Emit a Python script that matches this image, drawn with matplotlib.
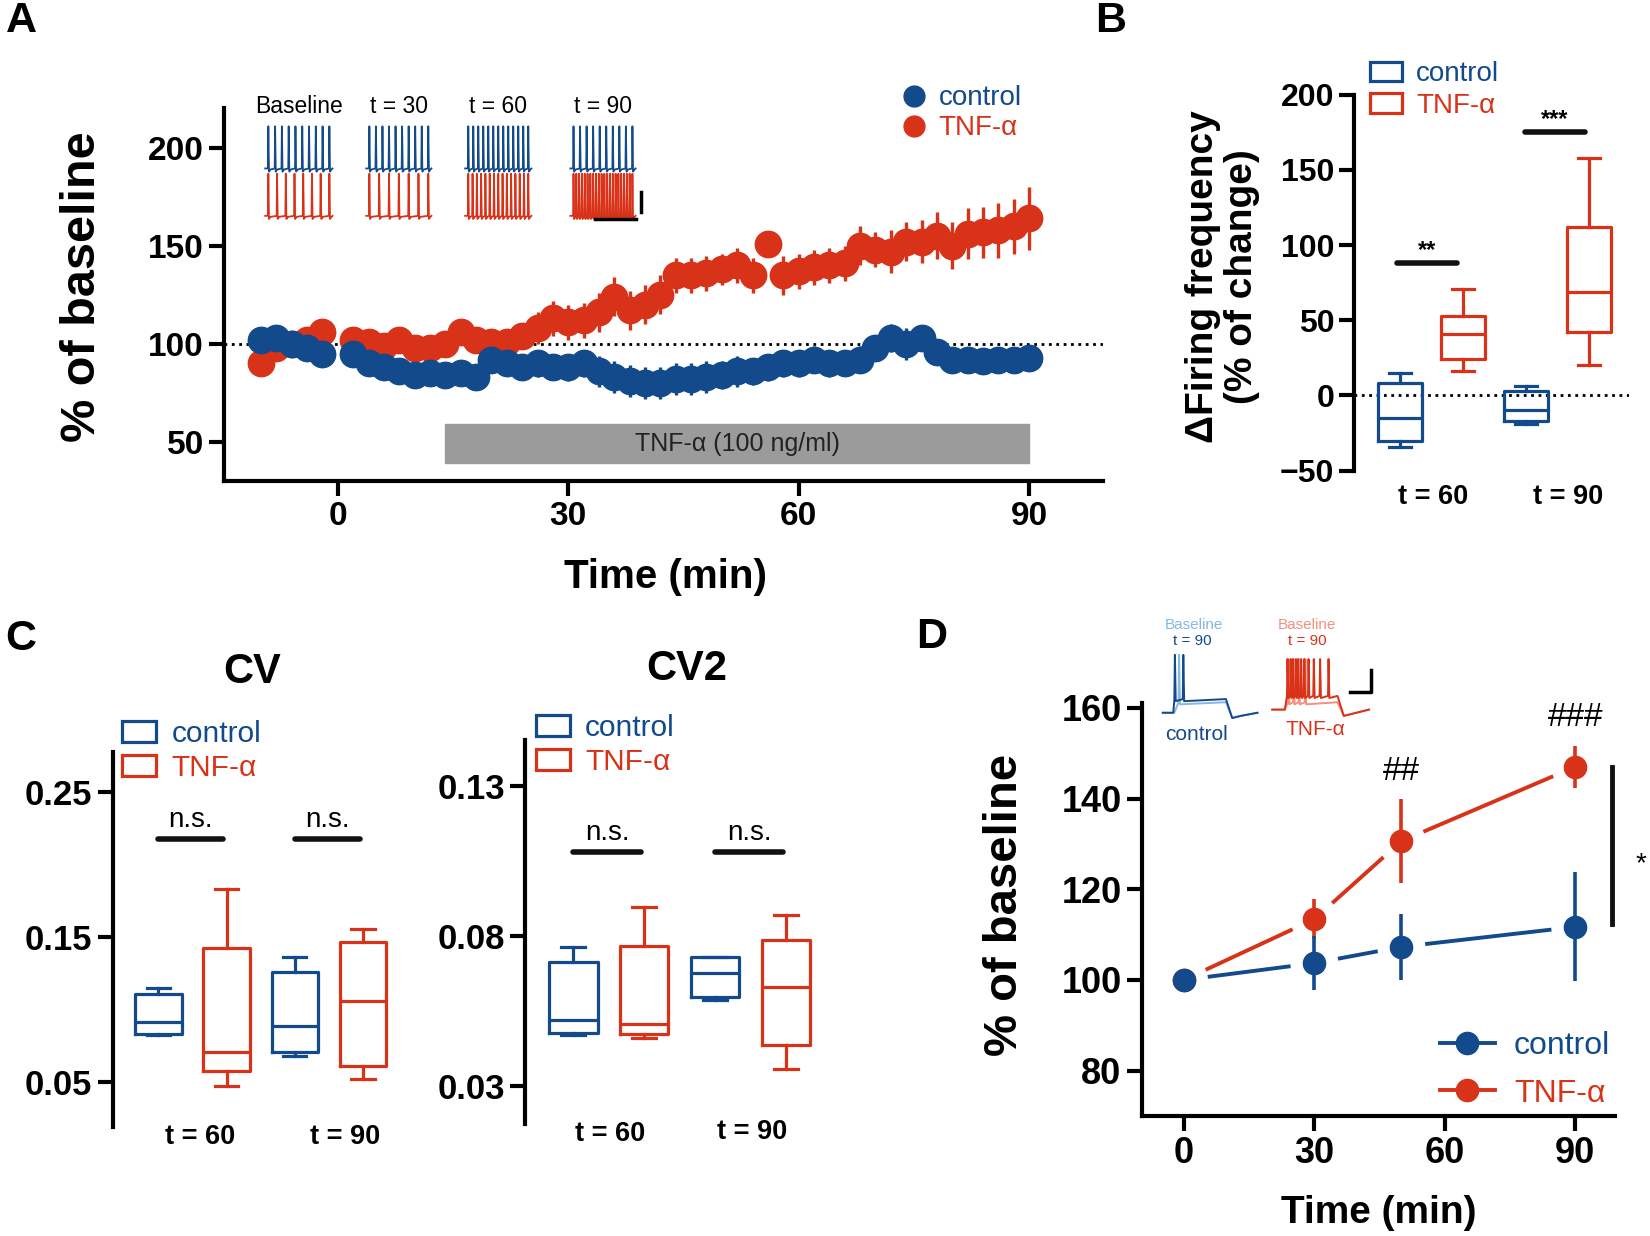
import numpy as np
import matplotlib
matplotlib.use("Agg")
import matplotlib.pyplot as plt
from matplotlib.patches import Patch, Rectangle
from matplotlib.lines import Line2D

plt.rcParams['font.family'] = ['Liberation Sans', 'DejaVu Sans']
plt.rcParams['axes.linewidth'] = 3

BLUE = '#124a8c'
RED = '#d83219'
LBLUE = '#86b9dd'
LRED = '#f3907f'

# ---------------- data ----------------
# Panel A: firing frequency over time (% of baseline)
time_a = [-10, -8, -6, -4, -2] + list(range(2, 92, 2))
ctrl_a = [102, 103, 100, 98, 95,
          95, 90, 88, 86, 84, 85, 84, 85, 83,
          92, 90, 88, 90, 88, 88, 90, 86, 83, 81, 80,
          80, 82, 82, 83, 84, 86, 86, 88, 90, 90,
          92, 90, 90, 92, 98, 103, 100, 103, 96, 92, 92, 91, 92, 92, 93]
ctrl_a_err = [2, 2, 2, 2, 2,
              3, 3, 4, 4, 4, 4, 5, 5, 5,
              6, 6, 6, 7, 6, 7, 7, 8, 8, 8, 8,
              8, 8, 8, 8, 7, 8, 7, 7, 7, 7,
              7, 7, 6, 7, 6, 7, 8, 6, 5, 5, 4, 4, 4, 4, 4]
tnf_a = [90, 98, 100, 102, 106,
         102, 101, 99, 102, 98, 98, 100, 106, 102,
         101, 101, 104, 108, 113, 111, 112, 116, 124, 117, 120,
         125, 135, 135, 136, 138, 140, 135, 151, 135, 137,
         139, 140, 141, 150, 148, 147, 152, 152, 155, 150, 156, 157, 158, 160, 164]
tnf_a_err = [3, 3, 3, 3, 3,
             4, 4, 4, 4, 5, 5, 5, 5, 5,
             5, 6, 6, 8, 9, 9, 9, 10, 10, 10, 10,
             10, 9, 9, 9, 8, 9, 9, 3, 10, 9,
             9, 9, 9, 10, 9, 11, 10, 11, 12, 12, 13, 13, 14, 14, 16]

inset_labels = ['Baseline', 't = 30', 't = 60', 't = 90']
ctrl_spikes = [10, 10, 13, 10]
tnf_spikes = [8, 7, 15, 22]

# Panel B: change in firing frequency, box stats [min, q1, median, q3, max]
b_ctrl_60 = [-34, -30, -15, 8, 15]
b_tnf_60 = [16, 24, 41, 53, 71]
b_ctrl_90 = [-19, -17, -10, 3, 6]
b_tnf_90 = [20, 42, 69, 112, 158]

# Panel C: CV and CV2
cv_ctrl_60 = [0.0825, 0.0832, 0.0917, 0.1106, 0.1147]
cv_tnf_60 = [0.0475, 0.0578, 0.071, 0.1424, 0.1832]
cv_ctrl_90 = [0.068, 0.071, 0.089, 0.126, 0.136]
cv_tnf_90 = [0.0518, 0.061, 0.106, 0.1465, 0.1555]
cv2_ctrl_60 = [0.047, 0.0476, 0.0522, 0.0714, 0.0764]
cv2_tnf_60 = [0.0461, 0.0473, 0.0507, 0.0768, 0.0898]
cv2_ctrl_90 = [0.0589, 0.0598, 0.0678, 0.0731, 0.0731]
cv2_tnf_90 = [0.0359, 0.0437, 0.0631, 0.0787, 0.087]

# Panel D: evoked firing (% of baseline)
time_d = [0, 30, 50, 90]
ctrl_d = [100, 103.7, 107.3, 111.7]
ctrl_d_err = [0, 6, 7.3, 12]
tnf_d = [100, 113.4, 130.6, 147]
tnf_d_err = [0, 4.4, 9.2, 4.6]

# ---------------- layout helpers ----------------
W, H = 1568.0, 1174.0


def P(x, y):
    return (x / W, 1 - y / H)


def rect(x0, y0, x1, y1):
    return [x0 / W, 1 - y1 / H, (x1 - x0) / W, (y1 - y0) / H]


fig = plt.figure(figsize=(16.5, 12.36), dpi=100)


def style_ax(ax, bottom=True, size=24):
    for s in ['top', 'right']:
        ax.spines[s].set_visible(False)
    ax.tick_params(width=3, length=11, labelsize=size, direction='out')
    if not bottom:
        ax.spines['bottom'].set_visible(False)
        ax.tick_params(axis='x', length=0, width=0, labelbottom=False)
    for lab in ax.get_xticklabels() + ax.get_yticklabels():
        lab.set_fontweight('bold')


# ---------------- Panel A ----------------
axA = fig.add_axes(rect(213, 103, 1048, 457))
axA.axhline(100, color='k', ls=':', lw=2, zorder=1)
axA.add_patch(Rectangle((14, 39), 76, 20, color='#9b9b9b', zorder=1))
axA.text(52, 49, 'TNF-α (100 ng/ml)', ha='center', va='center', fontsize=18, color='#222222')
axA.errorbar(time_a, tnf_a, yerr=tnf_a_err, fmt='o', color=RED, ms=19, elinewidth=2.4,
             capsize=0, zorder=3)
axA.errorbar(time_a, ctrl_a, yerr=ctrl_a_err, fmt='o', color=BLUE, ms=19, elinewidth=2.4,
             capsize=0, zorder=4)
axA.set_xlim(-14.8, 99.6)
axA.set_ylim(30, 220)
axA.set_xticks([0, 30, 60, 90])
axA.set_yticks([50, 100, 150, 200])
style_ax(axA, size=24)
legA = axA.legend(handles=[Line2D([], [], marker='o', ls='none', color=BLUE, ms=15),
                           Line2D([], [], marker='o', ls='none', color=RED, ms=15)],
                  labels=['control', 'TNF-α'], loc='upper left', frameon=False,
                  bbox_to_anchor=P(855, 81), bbox_transform=fig.transFigure,
                  fontsize=20, handlelength=1.0, handletextpad=0.4, labelspacing=0.15,
                  borderaxespad=0, borderpad=0)
for txt, c in zip(legA.get_texts(), [BLUE, RED]):
    txt.set_color(c)
fig.text(*P(632, 548), 'Time (min)', ha='center', va='center', fontsize=29, fontweight='bold')
fig.text(*P(78, 272), '% of baseline', ha='center', va='center', rotation=90,
         fontsize=35, fontweight='bold')


# ---------------- box plot helper ----------------
def boxes(ax, groups, colors, width=0.68):
    for i, (g, c) in enumerate(zip(groups, colors)):
        st = [dict(whislo=g[0], q1=g[1], med=g[2], q3=g[3], whishi=g[4], fliers=[])]
        pr = dict(color=c, lw=2.3)
        ax.bxp(st, positions=[i + 1], widths=width, showfliers=False, manage_ticks=False,
               boxprops=pr, medianprops=pr, whiskerprops=pr, capprops=pr)


def box_legend(ax, anchor, size):
    lg = ax.legend(handles=[Patch(facecolor='none', edgecolor=BLUE, lw=2.3),
                            Patch(facecolor='none', edgecolor=RED, lw=2.3)],
                   labels=['control', 'TNF-α'], loc='upper left', frameon=False,
                   bbox_to_anchor=anchor, bbox_transform=fig.transFigure,
                   fontsize=size, handlelength=1.15, handleheight=0.7,
                   handletextpad=0.5, labelspacing=0.2, borderaxespad=0, borderpad=0)
    for txt, c in zip(lg.get_texts(), [BLUE, RED]):
        txt.set_color(c)


def sig(ax, x0, x1, y, label, dy, size, weight='normal'):
    ax.plot([x0, x1], [y, y], color='#111111', lw=4, solid_capstyle='round')
    ax.text((x0 + x1) / 2, y + dy, label, ha='center', va='bottom', fontsize=size,
            fontweight=weight)


colors4 = [BLUE, RED, BLUE, RED]

# ---------------- Panel B ----------------
axB = fig.add_axes(rect(1287, 90, 1548, 447))
axB.axhline(0, color='k', ls=':', lw=2, zorder=0)
boxes(axB, [b_ctrl_60, b_tnf_60, b_ctrl_90, b_tnf_90], colors4, width=0.7)
axB.set_xlim(0.27, 4.63)
axB.set_ylim(-50, 200)
axB.set_yticks([-50, 0, 50, 100, 150, 200])
style_ax(axB, bottom=False, size=23)
sig(axB, 0.95, 1.9, 88, '**', 1, 17, 'bold')
sig(axB, 2.98, 3.93, 175, '***', 1, 17, 'bold')
box_legend(axB, P(1302, 58), 20)
fig.text(*P(1362, 472), 't = 60', ha='center', va='center', fontsize=19.5, fontweight='bold')
fig.text(*P(1490, 472), 't = 90', ha='center', va='center', fontsize=19.5, fontweight='bold')
fig.text(*P(1162, 263), 'ΔFiring frequency\n(% of change)', ha='center', va='center',
         rotation=90, fontsize=28, fontweight='bold', linespacing=1.1)

# ---------------- Panel C ----------------
axC1 = fig.add_axes(rect(107, 714, 380, 1070))
boxes(axC1, [cv_ctrl_60, cv_tnf_60, cv_ctrl_90, cv_tnf_90], colors4)
axC1.set_xlim(0.327, 4.54)
axC1.set_ylim(0.0193, 0.278)
axC1.set_yticks([0.05, 0.15, 0.25])
axC1.set_yticklabels(['0.05', '0.15', '0.25'])
style_ax(axC1, bottom=False, size=25)
sig(axC1, 1.0, 1.95, 0.218, 'n.s.', 0.004, 20)
sig(axC1, 3.0, 3.95, 0.218, 'n.s.', 0.004, 20)
box_legend(axC1, P(116, 684), 21.5)
fig.text(*P(240, 638), 'CV', ha='center', va='center', fontsize=30, fontweight='bold')
fig.text(*P(190, 1080), 't = 60', ha='center', va='center', fontsize=19.5, fontweight='bold')
fig.text(*P(328, 1080), 't = 90', ha='center', va='center', fontsize=19.5, fontweight='bold')

axC2 = fig.add_axes(rect(499, 703, 781, 1068))
boxes(axC2, [cv2_ctrl_60, cv2_tnf_60, cv2_ctrl_90, cv2_tnf_90], colors4)
axC2.set_xlim(0.32, 4.5)
axC2.set_ylim(0.0173, 0.1453)
axC2.set_yticks([0.03, 0.08, 0.13])
axC2.set_yticklabels(['0.03', '0.08', '0.13'])
style_ax(axC2, bottom=False, size=25)
sig(axC2, 1.0, 1.95, 0.108, 'n.s.', 0.002, 20)
sig(axC2, 3.0, 3.95, 0.108, 'n.s.', 0.002, 20)
box_legend(axC2, P(509, 678), 21.5)
fig.text(*P(653, 635), 'CV2', ha='center', va='center', fontsize=30, fontweight='bold')
fig.text(*P(580, 1077), 't = 60', ha='center', va='center', fontsize=19.5, fontweight='bold')
fig.text(*P(715, 1075), 't = 90', ha='center', va='center', fontsize=19.5, fontweight='bold')

# ---------------- Panel D ----------------
axD = fig.add_axes(rect(1085, 668, 1535, 1060))
axD.set_xlim(-9.7, 99.2)
axD.set_ylim(70, 161)
axD.set_xticks([0, 30, 60, 90])
axD.set_yticks([80, 100, 120, 140, 160])
style_ax(axD, size=26)


def gapped(ax, xs, ys, color, gap=24):
    for i in range(len(xs) - 1):
        p0 = ax.transData.transform((xs[i], ys[i]))
        p1 = ax.transData.transform((xs[i + 1], ys[i + 1]))
        u = (p1 - p0) / np.hypot(*(p1 - p0))
        a, b = ax.transData.inverted().transform([p0 + u * gap, p1 - u * gap])
        ax.plot([a[0], b[0]], [a[1], b[1]], color=color, lw=2.8, solid_capstyle='butt')


gapped(axD, time_d, tnf_d, RED)
gapped(axD, time_d, ctrl_d, BLUE)
axD.errorbar(time_d, tnf_d, yerr=tnf_d_err, fmt='o', color=RED, ms=16, elinewidth=2.6,
             capsize=0, zorder=3)
axD.errorbar(time_d, ctrl_d, yerr=ctrl_d_err, fmt='o', color=BLUE, ms=16, elinewidth=2.6,
             capsize=0, zorder=4)
axD.text(50, 142.5, '##', ha='center', va='bottom', fontsize=24)
axD.text(90, 154.5, '###', ha='center', va='bottom', fontsize=24)
axD.plot([98.4, 98.4], [112.3, 147], color='#111111', lw=3.5, clip_on=False)
axD.text(105, 125.6, '*', ha='center', va='center', fontsize=20, clip_on=False)
legD = axD.legend(handles=[Line2D([], [], marker='o', color=BLUE, ms=16, lw=2.8),
                           Line2D([], [], marker='o', color=RED, ms=16, lw=2.8)],
                  labels=['control', 'TNF-α'], loc='lower right', frameon=False,
                  fontsize=23, handlelength=1.7, handletextpad=0.6, labelspacing=0.55,
                  bbox_to_anchor=P(1530, 1053), bbox_transform=fig.transFigure,
                  borderaxespad=0, borderpad=0)
for txt, c in zip(legD.get_texts(), [BLUE, RED]):
    txt.set_color(c)
fig.text(*P(1310, 1152), 'Time (min)', ha='center', va='center', fontsize=28, fontweight='bold')
fig.text(*P(955, 860), '% of baseline', ha='center', va='center', rotation=90,
         fontsize=34, fontweight='bold')

# ---------------- overlay: traces, panel letters ----------------
ov = fig.add_axes([0, 0, 1, 1])
ov.set_xlim(0, W)
ov.set_ylim(H, 0)
ov.axis('off')
ov.patch.set_alpha(0)


def spike_train(x0, x1, yb, yp, n):
    px, py = [x0], [yb]
    for s in np.linspace(x0 + 3, x1 - 3, n):
        px += [s - 0.4, s, s + 0.6, s + 2.0]
        py += [yb, yp, yb + 3, yb + 1]
    px.append(x1)
    py.append(yb)
    return px, py


inset_x = [(252, 316), (348, 410), (442, 505), (542, 604)]
for lab, (x0, x1), nb, nr in zip(inset_labels, inset_x, ctrl_spikes, tnf_spikes):
    ov.text((x0 + x1) / 2, 101, lab, ha='center', va='center', fontsize=16.5)
    ov.plot(*spike_train(x0, x1, 160, 120, nb), color=BLUE, lw=1.3)
    ov.plot(*spike_train(x0, x1, 205, 165, nr), color=RED, lw=1.3)
ov.plot([609, 609], [182, 201], color='k', lw=2.5)
ov.plot([565, 604], [208, 208], color='k', lw=2.5)


def step_trace(x0, x_on, x_off, x_end, y_rest, y_step, y_under, y_peak, spikes):
    px, py = [x0, x_on], [y_rest, y_rest]
    for s in spikes:
        px += [s, s + 0.5, s + 1.3]
        py += [y_step, y_peak, y_step + 2]
    px += [x_off, x_off + 6, x_off + 14, x_end]
    py += [y_step, y_under, y_under - 2, y_rest]
    return px, py


ov.plot(*step_trace(1105, 1116, 1165, 1195, 677, 667, 682, 622, [1120]), color=LBLUE, lw=1.4)
ov.plot(*step_trace(1105, 1115, 1165, 1195, 677, 664, 682, 622, [1116, 1124]), color=BLUE, lw=1.4)
ov.plot(*step_trace(1209, 1221, 1271, 1301, 674, 667, 680, 626, [1224, 1229, 1234, 1240]),
        color=LRED, lw=1.4)
ov.plot(*step_trace(1209, 1221, 1271, 1301, 674, 661, 680, 626,
                    [1223, 1226, 1228, 1231, 1233, 1236, 1239, 1243, 1248, 1254, 1262]),
        color=RED, lw=1.4)
ov.plot([1283, 1303, 1303], [657, 657, 636], color='k', lw=2.5)
ov.text(1135, 594, 'Baseline', color=LBLUE, ha='center', va='center', fontsize=11)
ov.text(1133, 609, 't = 90', color=BLUE, ha='center', va='center', fontsize=11)
ov.text(1137, 698, 'control', color=BLUE, ha='center', va='center', fontsize=15)
ov.text(1242, 594, 'Baseline', color=LRED, ha='center', va='center', fontsize=11)
ov.text(1242, 609, 't = 90', color=RED, ha='center', va='center', fontsize=11)
ov.text(1250, 693, 'TNF-α', color=RED, ha='center', va='center', fontsize=15)

for lab, (x, y) in zip('ABCD', [(20, 20), (1055, 20), (20, 607), (885, 605)]):
    ov.text(x, y, lab, ha='center', va='center', fontsize=31, fontweight='bold')

fig.savefig('out.png', dpi=100)
